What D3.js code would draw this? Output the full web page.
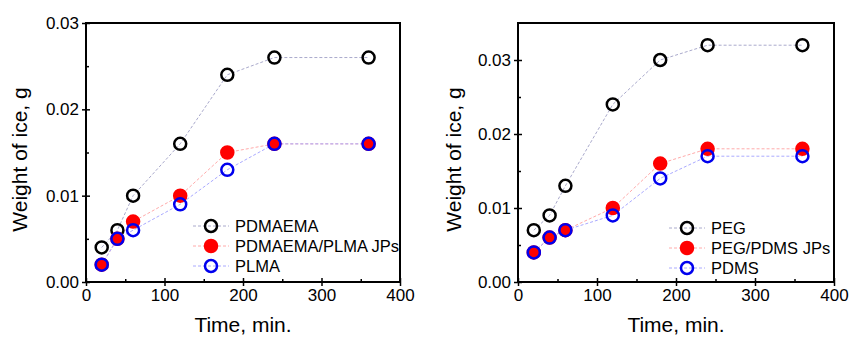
<!DOCTYPE html>
<html>
<head>
<meta charset="utf-8">
<script src="https://cdn.jsdelivr.net/npm/d3@7"></script>
<style>
  body { margin: 0; background: #fff; }
  svg { font-family: "Liberation Sans", Arial, sans-serif; }
</style>
</head>
<body>
<svg id="chart" width="850" height="340"></svg>
<script>
// data
const times = [20, 40, 60, 120, 180, 240, 360];

const leftNames = ["PDMAEMA", "PDMAEMA/PLMA JPs", "PLMA"];
const pdmaema = [0.004, 0.006, 0.010, 0.016, 0.024, 0.026, 0.026];
const pdmaemaPlma = [0.002, 0.005, 0.007, 0.010, 0.015, 0.016, 0.016];
const plma = [0.002, 0.005, 0.006, 0.009, 0.013, 0.016, 0.016];

const rightNames = ["PEG", "PEG/PDMS JPs", "PDMS"];
const peg = [0.007, 0.009, 0.013, 0.024, 0.030, 0.032, 0.032];
const pegPdms = [0.004, 0.006, 0.007, 0.010, 0.016, 0.018, 0.018];
const pdms = [0.004, 0.006, 0.007, 0.009, 0.014, 0.017, 0.017];

const leftYTicks = [0, 0.01, 0.02, 0.03];
const rightYTicks = [0, 0.01, 0.02, 0.03];
const xTicks = [0, 100, 200, 300, 400];

// marker styles: open black, filled red, open blue
const styles = [
  { stroke: "#000", fill: "none", line: "#aaaacc" },
  { stroke: "#ff0000", fill: "#ff0000", line: "#ffaaaa" },
  { stroke: "#0000ee", fill: "none", line: "#aaaaff" }
];

const svg = d3.select("#chart");

function panel(opt) {
  const g = svg.append("g");
  const x = d3.scaleLinear().domain([0, 400]).range([opt.x0, opt.x1]);
  const y = d3.scaleLinear().domain([0, opt.ymax]).range([opt.y1, opt.y0]);

  // minor ticks (inside)
  g.append("g")
    .attr("transform", `translate(0,${opt.y1})`)
    .call(d3.axisTop(x).tickValues([50, 150, 250, 350]).tickSize(3).tickFormat(""))
    .call(a => a.select(".domain").remove());
  g.append("g")
    .attr("transform", `translate(${opt.x0},0)`)
    .call(d3.axisRight(y).tickValues(opt.minor).tickSize(3).tickFormat(""))
    .call(a => a.select(".domain").remove());

  const xa = g.append("g")
    .attr("transform", `translate(0,${opt.y1})`)
    .call(d3.axisBottom(x).tickValues(xTicks).tickSize(4).tickPadding(3).tickFormat(d3.format("d")));
  const ya = g.append("g")
    .attr("transform", `translate(${opt.x0},0)`)
    .call(d3.axisLeft(y).tickValues(opt.yTicks).tickSize(4).tickPadding(3).tickFormat(d3.format(".2f")));
  [xa, ya].forEach(a => {
    a.selectAll("text").attr("font-size", 17).attr("fill", "#000").attr("font-family", "Liberation Sans, Arial, sans-serif");
    a.select(".domain").remove();
  });
  // major ticks cross the axis
  xa.selectAll(".tick line").attr("y1", -4);
  ya.selectAll(".tick line").attr("x1", 4);
  g.selectAll(".tick line").attr("stroke", "#000").attr("stroke-width", 1.5);

  // frame
  g.append("rect")
    .attr("x", opt.x0).attr("y", opt.y0)
    .attr("width", opt.x1 - opt.x0).attr("height", opt.y1 - opt.y0)
    .attr("fill", "none").attr("stroke", "#000").attr("stroke-width", 2);

  // titles
  g.append("text")
    .attr("x", (opt.x0 + opt.x1) / 2).attr("y", 332)
    .attr("text-anchor", "middle").attr("font-size", 21)
    .text("Time, min.");
  g.append("text")
    .attr("transform", `translate(${opt.ylabX},${(opt.y0 + opt.y1) / 2 + 7}) rotate(-90)`)
    .attr("text-anchor", "middle").attr("font-size", 21)
    .text("Weight of ice, g");

  const line = d3.line().x(d => x(d[0])).y(d => y(d[1]));

  opt.series.forEach((vals, i) => {
    const pts = times.map((t, j) => [t, vals[j]]);
    g.append("path")
      .datum(pts)
      .attr("d", line)
      .attr("fill", "none")
      .attr("stroke", styles[i].line)
      .attr("stroke-width", 1)
      .attr("stroke-dasharray", "3,2");
  });
  // draw markers back to front: black, red, blue
  opt.series.forEach((vals, i) => {
    g.append("g").selectAll("circle")
      .data(times.map((t, j) => [t, vals[j]]))
      .join("circle")
      .attr("cx", d => x(d[0]))
      .attr("cy", d => y(d[1]))
      .attr("r", 6)
      .attr("fill", styles[i].fill)
      .attr("stroke", styles[i].stroke)
      .attr("stroke-width", 2.5);
  });

  // legend
  const lg = g.append("g").attr("transform", `translate(${opt.legX},${opt.legY})`);
  opt.names.forEach((name, i) => {
    const row = lg.append("g").attr("transform", `translate(0,${i * 20})`);
    row.append("line")
      .attr("x1", 0).attr("x2", 36)
      .attr("stroke", styles[i].line).attr("stroke-width", 1)
      .attr("stroke-dasharray", "3,2");
    row.append("circle")
      .attr("cx", 18).attr("cy", 0).attr("r", 6)
      .attr("fill", styles[i].fill)
      .attr("stroke", styles[i].stroke).attr("stroke-width", 2.5);
    row.append("text")
      .attr("x", 42).attr("y", 0).attr("dy", "0.35em")
      .attr("font-size", 16.5)
      .text(name);
  });
}

panel({
  x0: 86, x1: 400, y0: 23, y1: 282, ymax: 0.03,
  yTicks: leftYTicks, minor: [0.005, 0.015, 0.025],
  ylabX: 27,
  series: [pdmaema, pdmaemaPlma, plma], names: leftNames,
  legX: 193, legY: 226
});

panel({
  x0: 518, x1: 834, y0: 23, y1: 282, ymax: 0.035,
  yTicks: rightYTicks, minor: [0.005, 0.015, 0.025],
  ylabX: 461,
  series: [peg, pegPdms, pdms], names: rightNames,
  legX: 669, legY: 228
});
</script>
</body>
</html>
